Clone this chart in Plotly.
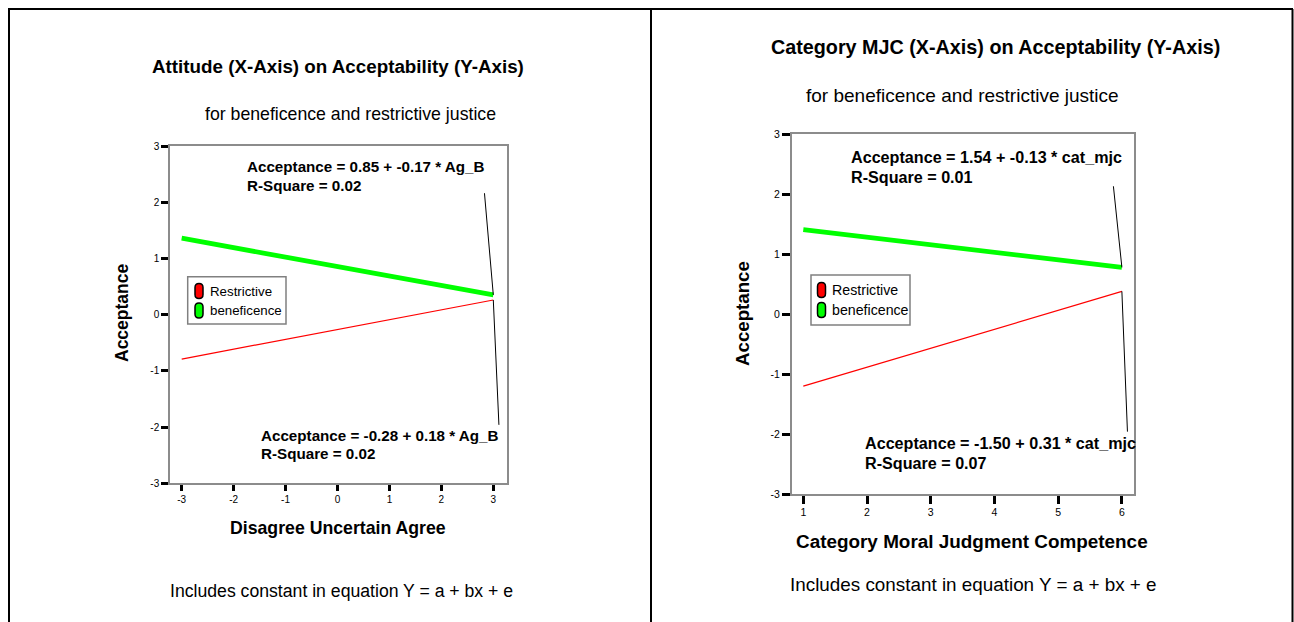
import plotly.graph_objects as go

# ---------------- data ----------------
series_names = ["Restrictive", "beneficence"]
series_colors = ["#ff0000", "#00ff00"]

left_x = [-3, 3]
left_restrictive = [-0.79, 0.26]
left_beneficence = [1.36, 0.35]
left_xticks = [-3, -2, -1, 0, 1, 2, 3]
left_yticks = [-3, -2, -1, 0, 1, 2, 3]

right_x = [1, 6]
right_restrictive = [-1.20, 0.38]
right_beneficence = [1.41, 0.78]
right_xticks = [1, 2, 3, 4, 5, 6]
right_yticks = [-3, -2, -1, 0, 1, 2, 3]

left_title = "Attitude (X-Axis) on Acceptability (Y-Axis)"
right_title = "Category MJC (X-Axis) on Acceptability (Y-Axis)"
subtitle = "for beneficence and restrictive justice"
left_xtitle = "Disagree Uncertain Agree"
right_xtitle = "Category Moral Judgment Competence"
ytitle = "Acceptance"
footer = "Includes constant in equation Y = a + bx + e"

left_eq_benef = ["Acceptance = 0.85 + -0.17 * Ag_B", "R-Square = 0.02"]
left_eq_restr = ["Acceptance = -0.28 + 0.18 * Ag_B", "R-Square = 0.02"]
right_eq_benef = ["Acceptance = 1.54 + -0.13 * cat_mjc", "R-Square = 0.01"]
right_eq_restr = ["Acceptance = -1.50 + 0.31 * cat_mjc", "R-Square = 0.07"]

# label-side anchor points of the leader lines (data coords)
left_leader_top = (2.83, 2.16)
left_leader_bot = (3.108, -1.96)
right_leader_top = (5.867, 2.133)
right_leader_bot = (6.087, -1.96)

# ---------------- layout helpers ----------------
W, H = 1294, 622
FONT = "Liberation Sans, Arial, sans-serif"


def px(x):
    return x / W


def py(y):
    return 1 - y / H


fig = go.Figure()

fig.add_trace(go.Scatter(x=left_x, y=left_restrictive, mode="lines",
                         line=dict(color=series_colors[0], width=1.2),
                         xaxis="x", yaxis="y", name=series_names[0]))
fig.add_trace(go.Scatter(x=left_x, y=left_beneficence, mode="lines",
                         line=dict(color=series_colors[1], width=4.8),
                         xaxis="x", yaxis="y", name=series_names[1]))
fig.add_trace(go.Scatter(x=right_x, y=right_restrictive, mode="lines",
                         line=dict(color=series_colors[0], width=1.2),
                         xaxis="x2", yaxis="y2", name=series_names[0]))
fig.add_trace(go.Scatter(x=right_x, y=right_beneficence, mode="lines",
                         line=dict(color=series_colors[1], width=4.8),
                         xaxis="x2", yaxis="y2", name=series_names[1]))

axis_common = dict(showgrid=False, zeroline=False, showline=True, mirror=True,
                   linecolor="#8c8c8c", linewidth=1.5, ticks="outside", automargin=False,
                   tickcolor="#000000", tickwidth=2.5, tickmode="array")

fig.update_layout(
    width=W, height=H,
    margin=dict(l=0, r=0, t=0, b=0, pad=0, autoexpand=False),
    paper_bgcolor="white", plot_bgcolor="white",
    showlegend=False,
    font=dict(family=FONT, color="#000000"),
    xaxis=dict(domain=[px(170), px(506.7)], range=[-3.225, 3.258],
               tickvals=left_xticks, ticktext=[str(v) for v in left_xticks],
               ticklen=6, tickfont=dict(size=10, family=FONT), anchor="y", **axis_common),
    yaxis=dict(domain=[py(483.3), py(146)], range=[-3, 3],
               tickvals=left_yticks, ticktext=[str(v) for v in left_yticks],
               ticklen=7, tickfont=dict(size=10, family=FONT), anchor="x", **axis_common),
    xaxis2=dict(domain=[px(791.7), px(1134)], range=[0.818, 6.19],
                tickvals=right_xticks, ticktext=[str(v) for v in right_xticks],
                ticklen=8, tickfont=dict(size=10.5, family=FONT), anchor="y2", **axis_common),
    yaxis2=dict(domain=[py(494), py(134.3)], range=[-3, 3],
                tickvals=right_yticks, ticktext=[str(v) for v in right_yticks],
                ticklen=8, tickfont=dict(size=10.5, family=FONT), anchor="x2", **axis_common),
)

ann = []


def text(x, y, s, size, bold=False, xanchor="center", angle=0):
    ann.append(dict(x=px(x), y=py(y), xref="paper", yref="paper", text=(f"<b>{s}</b>" if bold else s),
                    showarrow=False, xanchor=xanchor, yanchor="middle", textangle=angle,
                    font=dict(size=size, family=FONT, color="#000000")))


# left panel text
text(338.5, 66, left_title, 18.8, bold=True)
text(350.5, 114, subtitle, 17.7)
text(338.5, 528, left_xtitle, 17.7, bold=True)
text(122, 313, ytitle, 17.5, bold=True, angle=-90)
text(341, 591, footer, 17.65)
text(245, 166.7, left_eq_benef[0], 15.2, bold=True, xanchor="left")
text(245, 185, left_eq_benef[1], 15.2, bold=True, xanchor="left")
text(259.3, 435, left_eq_restr[0], 15.2, bold=True, xanchor="left")
text(259.3, 453.3, left_eq_restr[1], 15.2, bold=True, xanchor="left")

# right panel text
text(995.5, 47, right_title, 19.75, bold=True)
text(962, 95, subtitle, 19.0)
text(971.5, 541, right_xtitle, 18.9, bold=True)
text(743, 314, ytitle, 18.7, bold=True, angle=-90)
text(973, 584, footer, 18.85)
text(849.3, 157.3, right_eq_benef[0], 16.15, bold=True, xanchor="left")
text(849.3, 177.3, right_eq_benef[1], 16.15, bold=True, xanchor="left")
text(863.3, 443.3, right_eq_restr[0], 16.15, bold=True, xanchor="left")
text(863.3, 463.3, right_eq_restr[1], 16.15, bold=True, xanchor="left")

# legends (boxed, with pill-shaped keys)
legend_specs = [
    dict(box=(187.7, 276.7, 286, 324), pill_x=199, pill_y=[291, 310.5], text_x=207.5, size=13.3),
    dict(box=(811, 275, 910, 325), pill_x=821.5, pill_y=[290, 310], text_x=830, size=14.2),
]
shapes = []
pill_path = "M -4 -3.5 L -4 3.5 C -4 8.8 4 8.8 4 3.5 L 4 -3.5 C 4 -8.8 -4 -8.8 -4 -3.5 Z"
for spec in legend_specs:
    x0, y0, x1, y1 = spec["box"]
    shapes.append(dict(type="rect", xref="paper", yref="paper", x0=px(x0), x1=px(x1),
                       y0=py(y1), y1=py(y0), line=dict(color="#808080", width=1.5),
                       fillcolor="white", layer="above"))
    for i, name in enumerate(series_names):
        shapes.append(dict(type="path", xref="paper", yref="paper", xsizemode="pixel", ysizemode="pixel",
                           xanchor=px(spec["pill_x"]), yanchor=py(spec["pill_y"][i]), path=pill_path,
                           fillcolor=series_colors[i], line=dict(color="#000000", width=1.5), layer="above"))
        text(spec["text_x"], spec["pill_y"][i], name, spec["size"], xanchor="left")

# leader lines from the equation labels to the fitted lines' ends
for xr, yr, top, bot, xs, benef, restr in [
    ("x", "y", left_leader_top, left_leader_bot, left_x, left_beneficence, left_restrictive),
    ("x2", "y2", right_leader_top, right_leader_bot, right_x, right_beneficence, right_restrictive),
]:
    shapes.append(dict(type="line", xref=xr, yref=yr, x0=top[0], y0=top[1], x1=xs[-1], y1=benef[-1],
                       line=dict(color="#000000", width=1)))
    shapes.append(dict(type="line", xref=xr, yref=yr, x0=xs[-1], y0=restr[-1], x1=bot[0], y1=bot[1],
                       line=dict(color="#000000", width=1)))

# outer frame
frame = dict(color="#000000", width=2)
shapes.append(dict(type="line", xref="paper", yref="paper", x0=px(8), x1=px(1293), y0=py(9), y1=py(9), line=frame))
shapes.append(dict(type="line", xref="paper", yref="paper", x0=px(9), x1=px(9), y0=py(9), y1=0, line=frame))
shapes.append(dict(type="line", xref="paper", yref="paper", x0=px(651), x1=px(651), y0=py(9), y1=0, line=frame))
shapes.append(dict(type="line", xref="paper", yref="paper", x0=px(1292.5), x1=px(1292.5), y0=py(9), y1=0, line=frame))

fig.update_layout(annotations=ann, shapes=shapes)

fig.write_html("out.html", config={"displayModeBar": False},
               post_script="document.body.style.margin='0';document.body.style.overflow='hidden';")
